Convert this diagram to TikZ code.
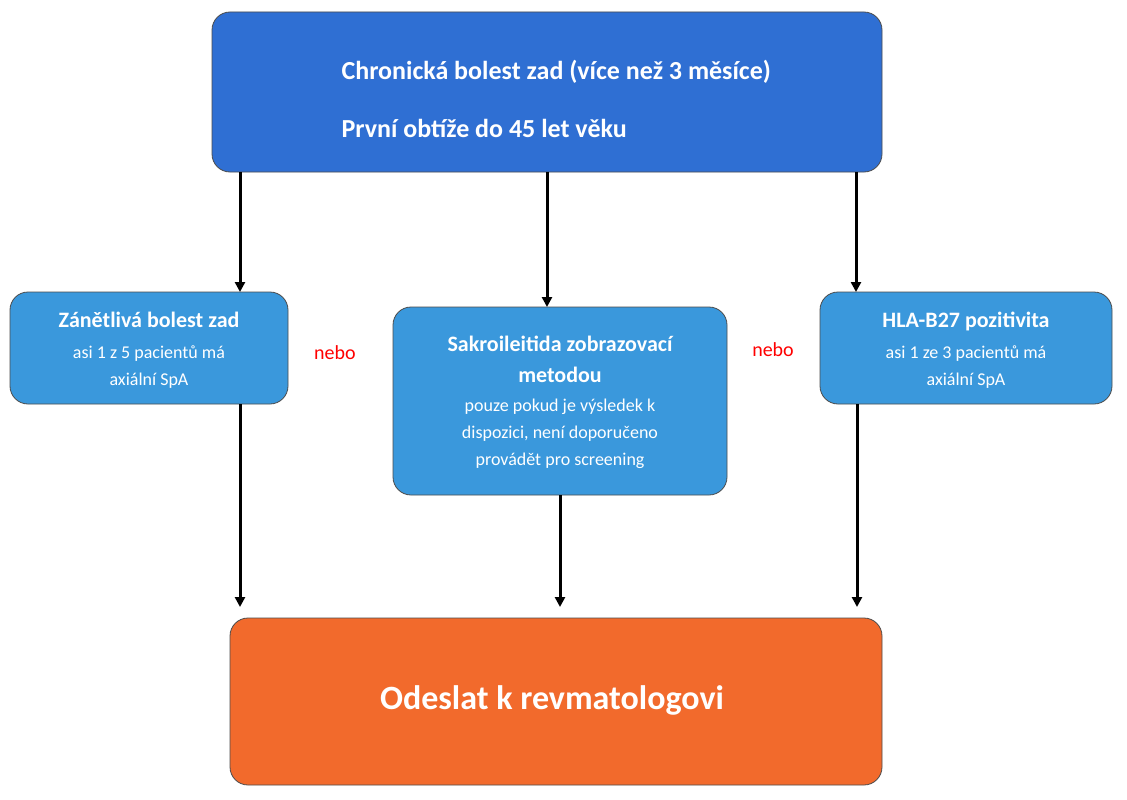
\documentclass[tikz,border=0pt]{standalone}
\usepackage{fontspec}
\setmainfont{Carlito}
\usetikzlibrary{arrows.meta}
\definecolor{topblue}{HTML}{2F6FD3}
\definecolor{midblue}{HTML}{3A98DC}
\definecolor{orng}{HTML}{F26A2C}
\tikzset{
 box/.style={draw=black!70,line width=0.8pt,rounded corners=18pt},
 arr/.style={line width=3pt,-{Triangle[length=10pt,width=10pt]}},
 t/.style={text=white,align=center,font=\fontsize{18}{27}\selectfont},
 nebo/.style={text=red,font=\fontsize{20}{24}\selectfont}
}
\begin{document}
\begin{tikzpicture}[x=1pt,y=-1pt]
\useasboundingbox (0,0) rectangle (1127,800);
\fill[white] (0,0) rectangle (1127,800);
\draw[box,fill=topblue] (212,12) rectangle (882,172);
\node[text=white,anchor=west,font=\bfseries\fontsize{26}{30}\selectfont] (t1) at (338,72) {Chronická bolest zad (více než 3 měsíce)};
\node[text=white,anchor=west,font=\bfseries\fontsize{26}{30}\selectfont] (t2) at (338,128) {První obtíže do 45 let věku};
\draw[box,fill=midblue] (10,292) rectangle (288,404);
\draw[box,fill=midblue] (393,307) rectangle (727,495);
\draw[box,fill=midblue] (820,292) rectangle (1112,404);
\draw[box,fill=orng] (230,618) rectangle (882,785);
\node[t] (l) at (149,350) {{\bfseries\fontsize{22}{27}\selectfont Zánětlivá bolest zad}\\[4pt]asi 1 z 5 pacientů má\\axiální SpA};
\node[t] (m) at (560,402) {{\bfseries\fontsize{22}{27}\selectfont Sakroileitida zobrazovací}\\[4pt]{\bfseries\fontsize{22}{27}\selectfont metodou}\\[2pt]pouze pokud je výsledek k\\dispozici, není doporučeno\\provádět pro screening};
\node[t] (r) at (966,350) {{\bfseries\fontsize{22}{27}\selectfont HLA-B27 pozitivita}\\[4pt]asi 1 ze 3 pacientů má\\axiální SpA};
\node[nebo] (n1) at (335,353) {nebo};
\node[nebo] (n2) at (773,350) {nebo};
\node[text=white,font=\bfseries\fontsize{34}{40}\selectfont] (b) at (552,700) {Odeslat k revmatologovi};
\draw[arr] (240,172) -- (240,292);
\draw[arr] (547,172) -- (547,307);
\draw[arr] (856,172) -- (856,292);
\draw[arr] (240,404) -- (240,607);
\draw[arr] (560,495) -- (560,607);
\draw[arr] (857,404) -- (857,607);
\end{tikzpicture}
\end{document}
